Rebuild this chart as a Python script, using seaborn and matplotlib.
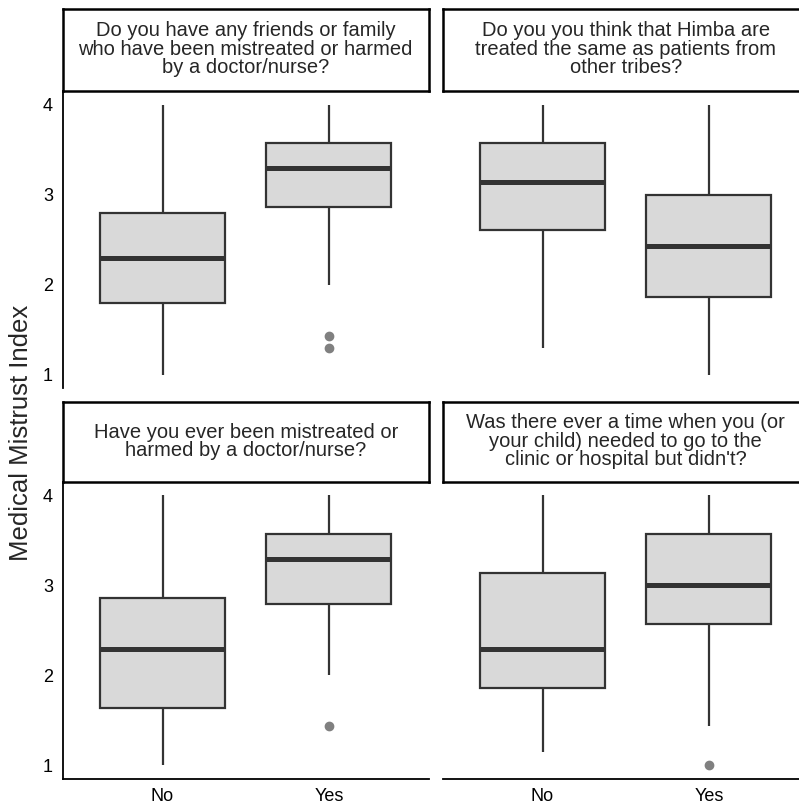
import matplotlib
matplotlib.use("Agg")
import matplotlib.pyplot as plt
import seaborn as sns
import pandas as pd

# facet titles (row-major order)
questions = [
    "Do you have any friends or family\nwho have been mistreated or harmed\nby a doctor/nurse?",
    "Do you you think that Himba are\ntreated the same as patients from\nother tribes?",
    "Have you ever been mistreated or\nharmed by a doctor/nurse?",
    "Was there ever a time when you (or\nyour child) needed to go to the\nclinic or hospital but didn't?",
]
answers = ["No", "Yes"]

# box summaries, per question: [No, Yes]
whisker_low = [[1.00, 2.00], [1.29, 1.00], [1.00, 2.00], [1.14, 1.43]]
quart_1 = [[1.79, 2.86], [2.61, 1.86], [1.64, 2.79], [1.86, 2.57]]
medians = [[2.29, 3.29], [3.14, 2.43], [2.29, 3.29], [2.29, 3.00]]
quart_3 = [[2.79, 3.57], [3.57, 3.00], [2.86, 3.57], [3.14, 3.57]]
whisker_high = [[4.00, 4.00], [4.00, 4.00], [4.00, 4.00], [4.00, 4.00]]
outliers = [[[], [1.29, 1.43]], [[], []], [[], [1.43]], [[], [1.00]]]


def sample_from_summary(lo, q1, med, q3, hi, fl):
    # n = 4m + 1 points so numpy's linear percentiles land exactly on q1/med/q3
    m = len(fl) + 1
    return sorted(fl) + [lo] + [q1] * m + [med] * m + [q3] * m + [hi]


rows = []
for qi, q in enumerate(questions):
    for ai, a in enumerate(answers):
        vals = sample_from_summary(whisker_low[qi][ai], quart_1[qi][ai], medians[qi][ai],
                                   quart_3[qi][ai], whisker_high[qi][ai], outliers[qi][ai])
        for v in vals:
            rows.append({"question": q, "answer": a, "value": v})
df = pd.DataFrame(rows)

sns.set_style("white")
plt.rcParams["font.family"] = ["Liberation Sans", "DejaVu Sans"]

W, H = 799, 808
fig = plt.figure(figsize=(W / 100, H / 100), dpi=100)

col_left = [62.7, 442.7]
panel_w = 366
# (strip_top, panel_top, panel_bottom) in pixels
row_pix = [(9.3, 91.0, 388.0), (402.3, 482.0, 778.5)]

line_c = "#333333"
for qi, q in enumerate(questions):
    r, c = divmod(qi, 2)
    st, pt, pb = row_pix[r]
    x0 = col_left[c]
    ax = fig.add_axes([x0 / W, 1 - pb / H, panel_w / W, (pb - pt) / H])
    sax = fig.add_axes([x0 / W, 1 - pt / H, panel_w / W, (pt - st) / H])

    sub = df[df["question"] == q]
    sns.boxplot(
        data=sub, x="answer", y="value", order=answers, ax=ax,
        color="#D9D9D9", linecolor=line_c, linewidth=1.6, width=0.75, whis=1.5,
        saturation=1,
        medianprops={"linewidth": 3.6, "color": line_c},
        capprops={"visible": False},
        flierprops={"marker": "o", "markerfacecolor": "#808080",
                    "markeredgecolor": "#808080", "markersize": 6},
    )
    ax.set_xlim(-0.6, 1.6)
    ax.set_ylim(0.85, 4.15)
    ax.set_xlabel("")
    ax.set_ylabel("")
    ax.set_facecolor("white")
    for s in ax.spines.values():
        s.set_visible(False)
    ax.tick_params(axis="both", labelsize=13, length=4, width=1.2, pad=3,
                   colors=line_c, labelcolor="black")
    if c == 0:
        ax.spines["left"].set_visible(True)
        ax.spines["left"].set_linewidth(1.3)
        ax.spines["left"].set_color("black")
        ax.set_yticks([1, 2, 3, 4])
    else:
        ax.set_yticks([])
    if r == 1:
        ax.spines["bottom"].set_visible(True)
        ax.spines["bottom"].set_linewidth(1.3)
        ax.spines["bottom"].set_color("black")
        ax.set_xticks([0, 1], answers)
    else:
        ax.set_xticks([])

    sax.set_xticks([])
    sax.set_yticks([])
    sax.set_facecolor("white")
    for s in sax.spines.values():
        s.set_visible(True)
        s.set_linewidth(1.8)
        s.set_color("black")
    sax.text(0.5, 0.51, q, ha="center", va="center", fontsize=14.5,
             linespacing=0.97, transform=sax.transAxes)

fig.text(21 / W, 1 - 433 / H, "Medical Mistrust Index", rotation=90, ha="center",
         va="center", fontsize=18.5)

fig.savefig("out.png", dpi=100)
